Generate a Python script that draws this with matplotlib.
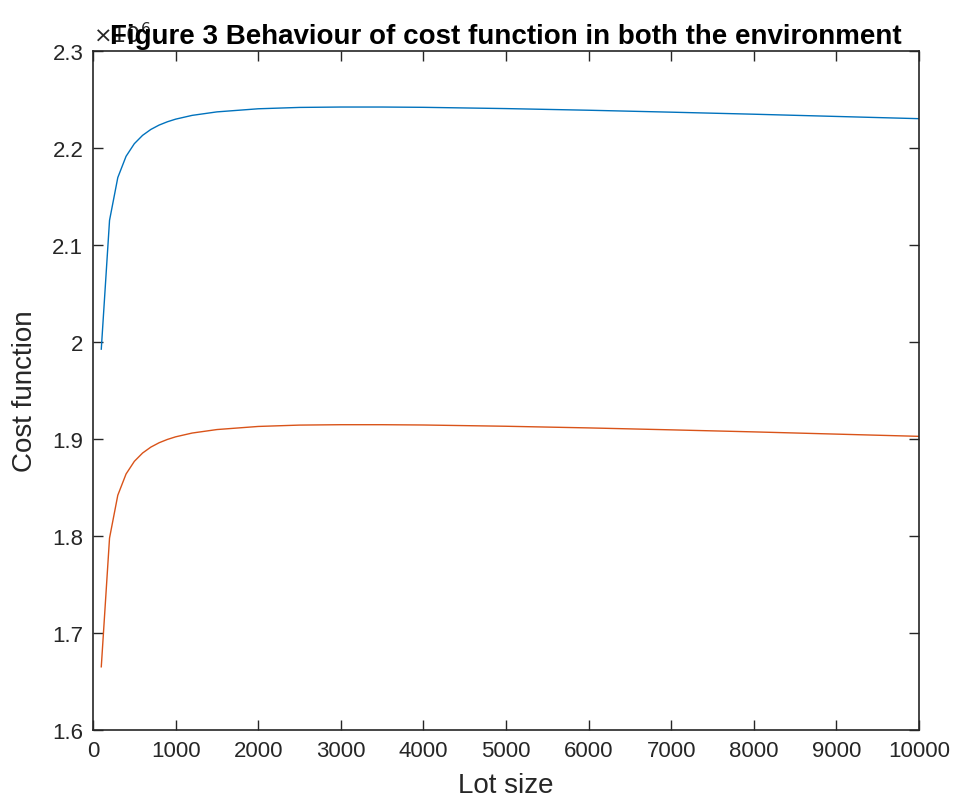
import matplotlib
matplotlib.use('Agg')
from matplotlib import pyplot as plt
from matplotlib.ticker import FuncFormatter

# lot sizes and cost values (in units of 10^6)
lot_size = [100, 200, 300, 400, 500, 600, 700, 800, 900, 1000, 1200, 1500,
            2000, 2500, 3000, 3500, 4000, 5000, 6000, 7000, 8000, 9000, 10000]
cost_env1 = [1.9926, 2.1254, 2.1695, 2.1914, 2.2044, 2.2130, 2.2191, 2.2236,
             2.2270, 2.2297, 2.2336, 2.2372, 2.2404, 2.2418, 2.2422, 2.2422,
             2.2419, 2.2406, 2.2389, 2.2369, 2.2348, 2.2325, 2.2302]
cost_env2 = [1.6651, 1.7979, 1.8420, 1.8639, 1.8769, 1.8855, 1.8916, 1.8961,
             1.8995, 1.9022, 1.9061, 1.9097, 1.9129, 1.9143, 1.9147, 1.9147,
             1.9144, 1.9131, 1.9114, 1.9094, 1.9073, 1.9050, 1.9027]

x_ticks = [0, 1000, 2000, 3000, 4000, 5000, 6000, 7000, 8000, 9000, 10000]
y_ticks = [1.6, 1.7, 1.8, 1.9, 2.0, 2.1, 2.2, 2.3]

plt.rcParams['font.family'] = ['Liberation Sans', 'DejaVu Sans']
dark = '#262626'

fig = plt.figure(figsize=(9.56, 8.12), dpi=100)
ax = fig.add_axes([0.0973, 0.0998, 0.864, 0.8362])

ax.plot(lot_size, cost_env1, color='#0072BD', linewidth=1.0)
ax.plot(lot_size, cost_env2, color='#D95319', linewidth=1.0)

ax.set_xlim(0, 10000)
ax.set_ylim(1.6, 2.3)
ax.set_xticks(x_ticks)
ax.set_yticks(y_ticks)
ax.yaxis.set_major_formatter(FuncFormatter(lambda v, p: '%g' % round(v, 2)))
ax.tick_params(direction='in', length=7, width=1, colors=dark, labelsize=16,
               top=True, right=True, pad=7)
for s in ax.spines.values():
    s.set_color(dark)
    s.set_linewidth(1.2)

ax.set_xlabel('Lot size', fontsize=20, color=dark, labelpad=8)
ax.set_ylabel('Cost function', fontsize=20, color=dark, labelpad=10)
ax.set_title('Figure 3 Behaviour of cost function in both the environment',
             fontsize=20, fontweight='bold', color='black', pad=6)
ax.text(0.0, 1.005, r'$\times10^{6}$', transform=ax.transAxes,
        fontsize=16, color=dark, ha='left', va='bottom')

fig.savefig('out.png', dpi=100)
